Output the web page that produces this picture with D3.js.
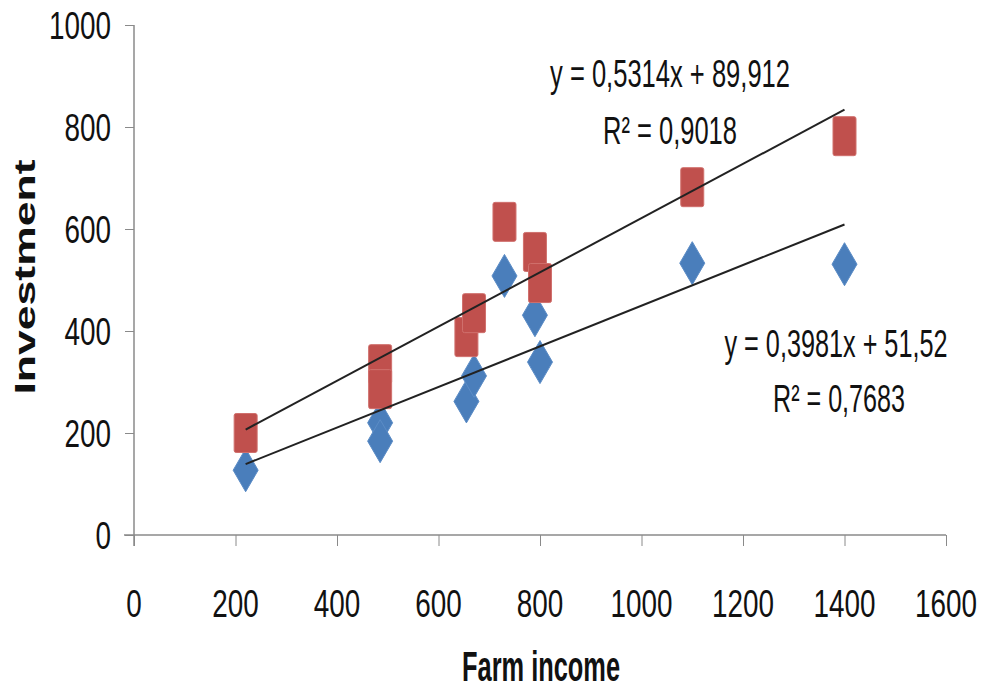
<!DOCTYPE html>
<html><head><meta charset="utf-8">
<script src="https://cdn.jsdelivr.net/npm/d3@7/dist/d3.min.js"></script>
<style>body{margin:0;background:#fff}svg{display:block}</style>
</head><body>
<svg id="c" width="982" height="690"></svg>
<script>
// Data
const xValues = [220, 485, 485, 655, 670, 730, 790, 800, 1100, 1400];
const seriesBlue = [127, 220, 184, 262, 312, 508, 431, 339, 533, 531];
const seriesRed  = [200, 335, 286, 388, 435, 614, 555, 494, 682, 782];
const xTicks = [0, 200, 400, 600, 800, 1000, 1200, 1400, 1600];
const yTicks = [0, 200, 400, 600, 800, 1000];
const trendRed = {slope: 0.5314, intercept: 89.912, from: 220, to: 1400};
const trendBlue = {slope: 0.3981, intercept: 51.52, from: 220, to: 1400};
const labelsRed = ["y = 0,5314x + 89,912", "R² = 0,9018"];
const labelsBlue = ["y = 0,3981x + 51,52", "R² = 0,7683"];

const svg = d3.select("#c");
const x = d3.scaleLinear().domain([0, 1600]).range([134, 946]);
const y = d3.scaleLinear().domain([0, 1000]).range([535, 25]);
const FONT = "'Liberation Sans', Arial, sans-serif";
const SY = 1.38;
const axisColor = "#8a8a8a";

// X axis
const xa = svg.append("g").attr("transform", `translate(0,${y(0)})`)
  .call(d3.axisBottom(x).tickValues(xTicks).tickSize(11).tickFormat(""));
xa.select(".domain").attr("stroke", axisColor).attr("stroke-width", 1.5).attr("d", `M124,0H${x(1600)}`);
xa.selectAll(".tick line").attr("stroke", axisColor).attr("stroke-width", 1);
// Y axis
const ya = svg.append("g").attr("transform", `translate(${x(0)},0)`)
  .call(d3.axisLeft(y).tickValues(yTicks).tickSize(9).tickFormat(""));
ya.select(".domain").attr("stroke", axisColor).attr("stroke-width", 1.5).attr("d", `M0,${y(0)+11}V${y(1000)}`);
ya.selectAll(".tick line").attr("stroke", axisColor).attr("stroke-width", 1);

function stretchedText(g, tx, ty, str, size, anchor, weight, len, sy) {
  const t = g.append("text")
    .attr("transform", `translate(${tx},${ty}) scale(1,${sy || SY})`)
    .attr("text-anchor", anchor).attr("dominant-baseline", "central")
    .attr("font-family", FONT).attr("font-size", size)
    .attr("font-weight", weight || "normal").attr("fill", "#111")
    .text(str);
  if (len) t.attr("textLength", len).attr("lengthAdjust", "spacingAndGlyphs");
  return t;
}
const tl = svg.append("g");
xTicks.forEach(t => { const s = d3.format("d")(t);
  stretchedText(tl, x(t), 603, s, 28, "middle", null, s.length * 15.5); });
yTicks.forEach(t => { const s = d3.format("d")(t);
  stretchedText(tl, 111, y(t), s, 28, "end", null, s.length * 15.5); });

// Axis titles
stretchedText(svg, 541, 667, "Farm income", 26, "middle", "bold", 158, 1.6);
svg.append("text")
  .attr("transform", `translate(25,277) rotate(-90) scale(1,1)`)
  .attr("text-anchor", "middle").attr("dominant-baseline", "central")
  .attr("font-family", FONT).attr("font-size", 29)
  .attr("font-weight", "bold").attr("fill", "#111")
  .attr("textLength", 235).attr("lengthAdjust", "spacingAndGlyphs")
  .text("Investment");

// Markers
const dw = 12.5, dh = 21.5;
svg.append("g").selectAll("path").data(xValues.map((v, i) => [v, seriesBlue[i]])).join("path")
  .attr("d", d => { const cx = x(d[0]), cy = y(d[1]);
    return `M${cx},${cy-dh}L${cx+dw},${cy}L${cx},${cy+dh}L${cx-dw},${cy}Z`; })
  .attr("fill", "#4a7ebb").attr("stroke", "#5b8cc6").attr("stroke-width", 1);

const sw = 23, sh = 39;
svg.append("g").selectAll("rect").data(xValues.map((v, i) => [v, seriesRed[i]])).join("rect")
  .attr("x", d => x(d[0]) - sw/2).attr("y", d => y(d[1]) - sh/2)
  .attr("width", sw).attr("height", sh).attr("rx", 2)
  .attr("fill", "#c0504d").attr("stroke", "#d0706d").attr("stroke-width", 1);

// Trend lines
[trendRed, trendBlue].forEach(t => {
  svg.append("line")
    .attr("x1", x(t.from)).attr("y1", y(t.slope * t.from + t.intercept))
    .attr("x2", x(t.to)).attr("y2", y(t.slope * t.to + t.intercept))
    .attr("stroke", "#222").attr("stroke-width", 2);
});

// Equation labels
stretchedText(svg, 670, 73, labelsRed[0], 28, "middle", null, 240);
stretchedText(svg, 670, 130, labelsRed[1], 28, "middle", null, 134);
stretchedText(svg, 836, 343, labelsBlue[0], 28, "middle", null, 223);
stretchedText(svg, 839, 398, labelsBlue[1], 28, "middle", null, 132);
</script>
</body></html>
